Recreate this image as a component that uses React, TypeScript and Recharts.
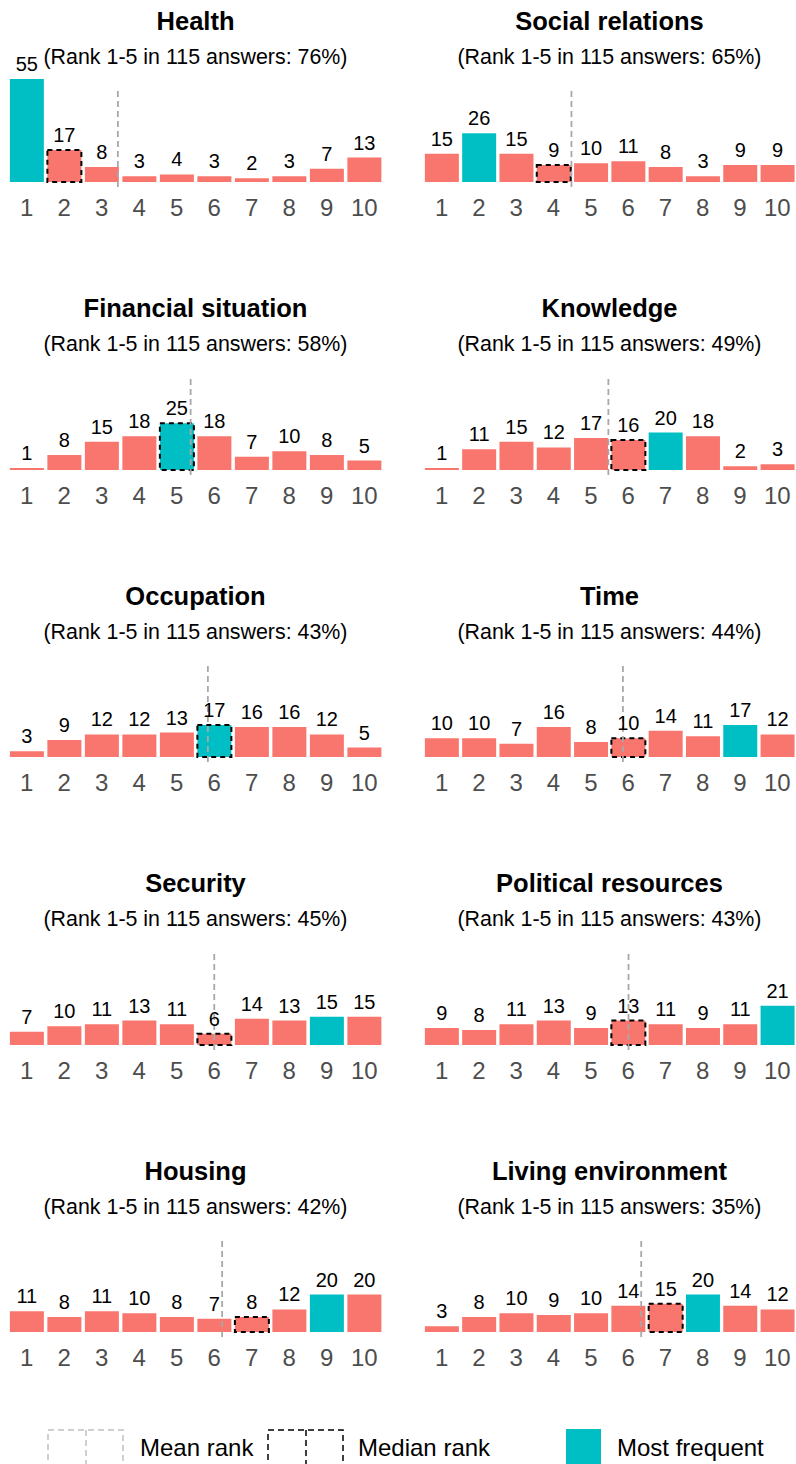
import { BarChart, Bar, XAxis, YAxis, Cell, LabelList, ReferenceLine } from "recharts";

const RANKS = ["1", "2", "3", "4", "5", "6", "7", "8", "9", "10"];

const TITLES = [
  "Health",
  "Social relations",
  "Financial situation",
  "Knowledge",
  "Occupation",
  "Time",
  "Security",
  "Political resources",
  "Housing",
  "Living environment",
];

const health = [55, 17, 8, 3, 4, 3, 2, 3, 7, 13];
const social = [15, 26, 15, 9, 10, 11, 8, 3, 9, 9];
const financial = [1, 8, 15, 18, 25, 18, 7, 10, 8, 5];
const knowledge = [1, 11, 15, 12, 17, 16, 20, 18, 2, 3];
const occupation = [3, 9, 12, 12, 13, 17, 16, 16, 12, 5];
const time = [10, 10, 7, 16, 8, 10, 14, 11, 17, 12];
const security = [7, 10, 11, 13, 11, 6, 14, 13, 15, 15];
const political = [9, 8, 11, 13, 9, 13, 11, 9, 11, 21];
const housing = [11, 8, 11, 10, 8, 7, 8, 12, 20, 20];
const living = [3, 8, 10, 9, 10, 14, 15, 20, 14, 12];

const COUNTS = [health, social, financial, knowledge, occupation, time, security, political, housing, living];

const TOP5_PCT = [76, 65, 58, 49, 43, 44, 45, 43, 42, 35];
const MEAN_RANK = [3.43, 4.48, 5.37, 5.47, 5.83, 5.86, 6.0, 6.01, 6.21, 6.35];
const MEDIAN_RANK = [2, 4, 5, 6, 6, 6, 6, 6, 7, 7];
const MODE_RANK = [1, 2, 5, 7, 6, 9, 9, 10, 9, 8];

const TEAL = "#00BFC4";
const SALMON = "#F8766D";
const FONT = "'Liberation Sans', Arial, sans-serif";

const Y_MIN = -2.7;
const Y_MAX = 61.4;

const Panel = ({ idx }: { idx: number }) => {
  const col = idx % 2;
  const row = Math.floor(idx / 2);
  const baseline = 182 + row * 287.5;
  const left = col === 0 ? 8 : 423;
  const width = col === 0 ? 375 : 373;
  const data = RANKS.map((r, i) => ({ rank: r, pos: Number(r), count: COUNTS[idx][i] }));
  const mean = MEAN_RANK[idx];

  return (
    <>
      <div
        style={{
          position: "absolute",
          left,
          width,
          top: baseline - 161 - 12.5,
          height: 25,
          lineHeight: "25px",
          fontSize: 25.5,
          fontWeight: "bold",
          textAlign: "center",
          whiteSpace: "nowrap",
        }}
      >
        {TITLES[idx]}
      </div>
      <div
        style={{
          position: "absolute",
          left,
          width,
          top: baseline - 125 - 10.5,
          height: 21,
          lineHeight: "21px",
          fontSize: 21.4,
          textAlign: "center",
          whiteSpace: "nowrap",
        }}
      >
        (Rank 1-5 in 115 answers: {TOP5_PCT[idx]}%)
      </div>
      <div style={{ position: "absolute", left, top: baseline - 135 }}>
        <BarChart
          width={width}
          height={180}
          data={data}
          margin={{ top: 20, right: 0, bottom: 0, left: 0 }}
          barCategoryGap="5%"
        >
          <XAxis
            dataKey="rank"
            type="category"
            interval={0}
            height={40}
            tickLine={false}
            axisLine={false}
            tickSize={6}
            tickMargin={6}
            tick={{ fontSize: 24, fill: "#4D4D4D", fontFamily: FONT }}
          />
          <XAxis
            xAxisId="num"
            dataKey="pos"
            type="number"
            domain={[0.5, 10.5]}
            allowDataOverflow
            hide
          />
          <YAxis hide domain={[Y_MIN, Y_MAX]} />
          <ReferenceLine
            xAxisId="num"
            segment={[
              { x: mean, y: Y_MIN },
              { x: mean, y: 50.7 },
            ]}
            stroke="#A8A8A8"
            strokeWidth={1.8}
            strokeDasharray="6 4"
            ifOverflow="visible"
          />
          <Bar dataKey="count" isAnimationActive={false}>
            {data.map((d, i) => {
              const rank = i + 1;
              const isMedian = rank === MEDIAN_RANK[idx];
              return (
                <Cell
                  key={d.rank}
                  fill={rank === MODE_RANK[idx] ? TEAL : SALMON}
                  stroke={isMedian ? "#000" : "none"}
                  strokeWidth={isMedian ? 2 : 0}
                  strokeDasharray={isMedian ? "5 4" : undefined}
                />
              );
            })}
            <LabelList
              dataKey="count"
              position="top"
              offset={8}
              fill="#000"
              fontSize={20}
              fontFamily={FONT}
            />
          </Bar>
        </BarChart>
      </div>
    </>
  );
};

const Legend = () => (
  <svg
    width={796}
    height={64}
    style={{ position: "absolute", left: 0, top: 1400 }}
    fontFamily={FONT}
  >
    <rect x={48} y={30} width={75} height={50} fill="none" stroke="#C0C0C0" strokeWidth={1.5} strokeDasharray="6 4" />
    <line x1={86} y1={30} x2={86} y2={80} stroke="#C0C0C0" strokeWidth={1.5} strokeDasharray="6 4" />
    <text x={140} y={56} fontSize={24} fill="#000">Mean rank</text>
    <rect x={268} y={30} width={75} height={50} fill="none" stroke="#000" strokeWidth={1.5} strokeDasharray="6 4" />
    <line x1={306} y1={30} x2={306} y2={80} stroke="#000" strokeWidth={1.5} strokeDasharray="6 4" />
    <text x={358} y={56} fontSize={24} fill="#000">Median rank</text>
    <rect x={566} y={29} width={35} height={50} fill={TEAL} />
    <text x={617} y={56} fontSize={24} fill="#000">Most frequent</text>
  </svg>
);

const App = () => {
  return (
    <div
      style={{
        position: "absolute",
        left: 0,
        top: 0,
        width: 796,
        height: 1464,
        overflow: "hidden",
        background: "#fff",
        fontFamily: FONT,
        color: "#000",
      }}
    >
      {TITLES.map((t, i) => (
        <Panel key={t} idx={i} />
      ))}
      <Legend />
    </div>
  );
};

export default App;
